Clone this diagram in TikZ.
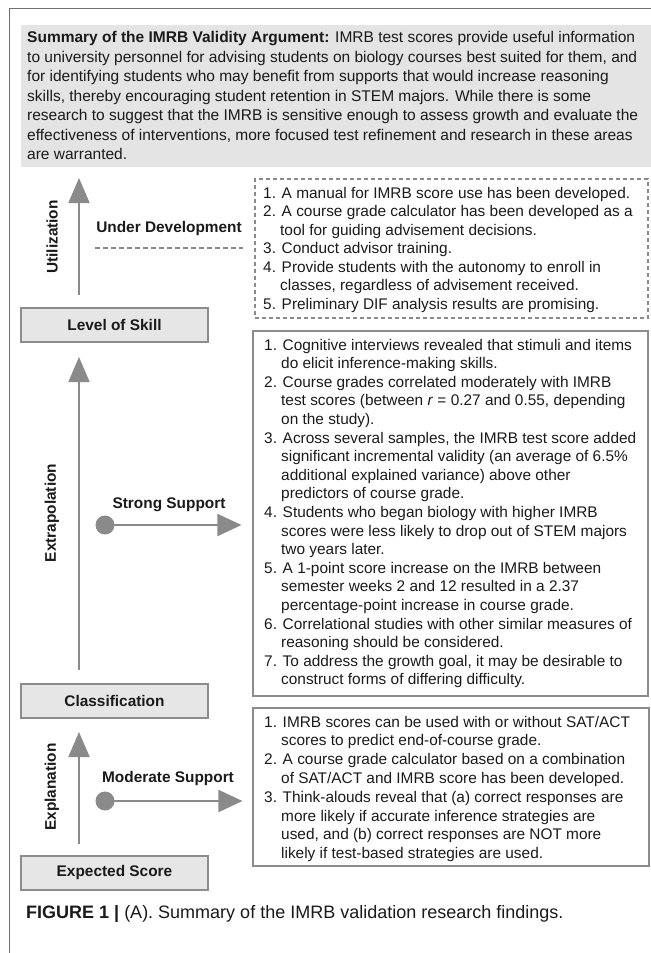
\documentclass[tikz,border=0pt]{standalone}
\usepackage{fontspec}
\setmainfont{Liberation Sans}
\usetikzlibrary{arrows.meta}
\definecolor{agray}{HTML}{8A8A8A}
\definecolor{bgray}{HTML}{8C8C8C}
\definecolor{boxfill}{HTML}{E6E6E6}
\definecolor{sumfill}{HTML}{E4E4E4}
\definecolor{framec}{HTML}{707070}
\definecolor{txtc}{HTML}{1A1A1A}
\newcommand\bxfont{\fontsize{15.4bp}{18.6bp}\selectfont}
\newcommand\sumfont{\fontsize{15.5bp}{19.5bp}\selectfont}
\tikzset{
  txt/.style={anchor=base west, inner sep=0pt, font=\bxfont, text=txtc},
  stxt/.style={anchor=base west, inner sep=0pt, font=\sumfont, text=txtc},
  lab/.style={inner sep=0pt, font=\bxfont\bfseries, text=txtc},
  lbox/.style={draw=bgray, fill=boxfill, line width=2bp, minimum width=187bp, minimum height=34bp, inner sep=0pt, font=\bxfont\bfseries, text=txtc},
  rbox/.style={draw=bgray, line width=2bp, inner sep=0pt},
  dbox/.style={draw=agray, line width=2bp, dash pattern=on 4bp off 3bp, inner sep=0pt},
  arr/.style={draw=agray, line width=1.8bp, -{Triangle[length=25bp,width=21bp]}},
}
\begin{document}
\begin{tikzpicture}[x=1bp,y=-1bp]
\useasboundingbox (0,0) rectangle (651,953);
% frame
\draw[framec, line width=1bp] (9,953) -- (9,8) -- (651,8);
% summary
\fill[sumfill] (21,25) rectangle (651,167);
\foreach \tx [count=\i from 0] in {
 {\textbf{Summary of the IMRB Validity Argument:} IMRB test scores provide useful information},
 {to university personnel for advising students on biology courses best suited for them, and},
 {for identifying students who may benefit from supports that would increase reasoning},
 {skills, thereby encouraging student retention in STEM majors. While there is some},
 {research to suggest that the IMRB is sensitive enough to assess growth and evaluate the},
 {effectiveness of interventions, more focused test refinement and research in these areas},
 {are warranted.}}
 \node[stxt, name=s\i] at (27, 42.5+\i*19.5) {\tx};
% left column boxes
\node[lbox] (lvl) at (114.5,325) {Level of Skill};
\node[lbox] (cls) at (114.5,701) {Classification};
\node[lbox] (exp) at (114.5,872.5) {Expected Score};
\coordinate (ax) at (79,0);
\coordinate (utop) at (79,178);
\draw[arr, shorten <=12bp] (lvl.north -| ax) -- (utop);
\draw[arr, shorten <=13bp, shorten >=14bp] (cls.north -| ax) -- (lvl.south -| ax);
\draw[arr, shorten <=11bp, shorten >=13bp] (exp.north -| ax) -- (cls.south -| ax);
\node[lab, rotate=90] (lu) at (52,237) {Utilization};
\node[lab, rotate=90] (lx) at (52,513) {Extrapolation};
\node[lab, rotate=90] (le) at (52,787) {Explanation};
% right boxes
\node[dbox, minimum width=393bp, minimum height=139bp] (db) at (451,248) {};
\node[rbox, minimum width=395bp, minimum height=365bp] (sb) at (450,513) {};
\node[rbox, minimum width=396bp, minimum height=158bp] (mb) at (450.5,786.5) {};
% middle labels and connectors
\node[lab] (ud) at (169,229) {Under Development};
\coordinate (uds) at (95,248);
\draw[agray, line width=2bp, dash pattern=on 5bp off 3bp, shorten >=11bp] (uds) -- (uds -| db.west);
\node[lab] (ss) at (169,505) {Strong Support};
\coordinate (sdot) at (105,525);
\fill[agray] (sdot) circle (9.5bp);
\draw[arr, -{Triangle[length=24bp,width=22bp]}, shorten >=10bp] (sdot) -- (sdot -| sb.west);
\node[lab] (ms) at (168,779) {Moderate Support};
\coordinate (mdot) at (105,801);
\fill[agray] (mdot) circle (9.5bp);
\draw[arr, -{Triangle[length=24bp,width=22bp]}, shorten >=9bp] (mdot) -- (mdot -| mb.west);
% dashed box text
\foreach \dx/\tx [count=\i from 0] in {
 0/{1. A manual for IMRB score use has been developed.},
 0/{2. A course grade calculator has been developed as a},
 17/{tool for guiding advisement decisions.},
 0/{3. Conduct advisor training.},
 0/{4. Provide students with the autonomy to enroll in},
 17/{classes, regardless of advisement received.},
 0/{5. Preliminary DIF analysis results are promising.}}
 \node[txt, name=d\i] at (263+\dx, 198+\i*18.5) {\tx};
% strong box text
\foreach \dx/\tx [count=\i from 0] in {
 0/{1. Cognitive interviews revealed that stimuli and items},
 17/{do elicit inference-making skills.},
 0/{2. Course grades correlated moderately with IMRB},
 17/{test scores (between \textit{r} = 0.27 and 0.55, depending},
 17/{on the study).},
 0/{3. Across several samples, the IMRB test score added},
 17/{significant incremental validity (an average of 6.5\%},
 17/{additional explained variance) above other},
 17/{predictors of course grade.},
 0/{4. Students who began biology with higher IMRB},
 17/{scores were less likely to drop out of STEM majors},
 17/{two years later.},
 0/{5. A 1-point score increase on the IMRB between},
 17/{semester weeks 2 and 12 resulted in a 2.37},
 17/{percentage-point increase in course grade.},
 0/{6. Correlational studies with other similar measures of},
 17/{reasoning should be considered.},
 0/{7. To address the growth goal, it may be desirable to},
 17/{construct forms of differing difficulty.}}
 \node[txt, name=t\i] at (264+\dx, 350+\i*18.6) {\tx};
% moderate box text
\foreach \dx/\tx [count=\i from 0] in {
 0/{1. IMRB scores can be used with or without SAT/ACT},
 17/{scores to predict end-of-course grade.},
 0/{2. A course grade calculator based on a combination},
 17/{of SAT/ACT and IMRB score has been developed.},
 0/{3. Think-alouds reveal that (a) correct responses are},
 17/{more likely if accurate inference strategies are},
 17/{used, and (b) correct responses are NOT more},
 17/{likely if test-based strategies are used.}}
 \node[txt, name=m\i] at (264+\dx, 727+\i*18.8) {\tx};
% caption
\node[anchor=base west, inner sep=0pt, font=\fontsize{18bp}{21bp}\selectfont, text=txtc] (cap) at (26,918)
 {\textbf{FIGURE 1 |} (A). Summary of the IMRB validation research findings.};
\end{tikzpicture}
\end{document}
